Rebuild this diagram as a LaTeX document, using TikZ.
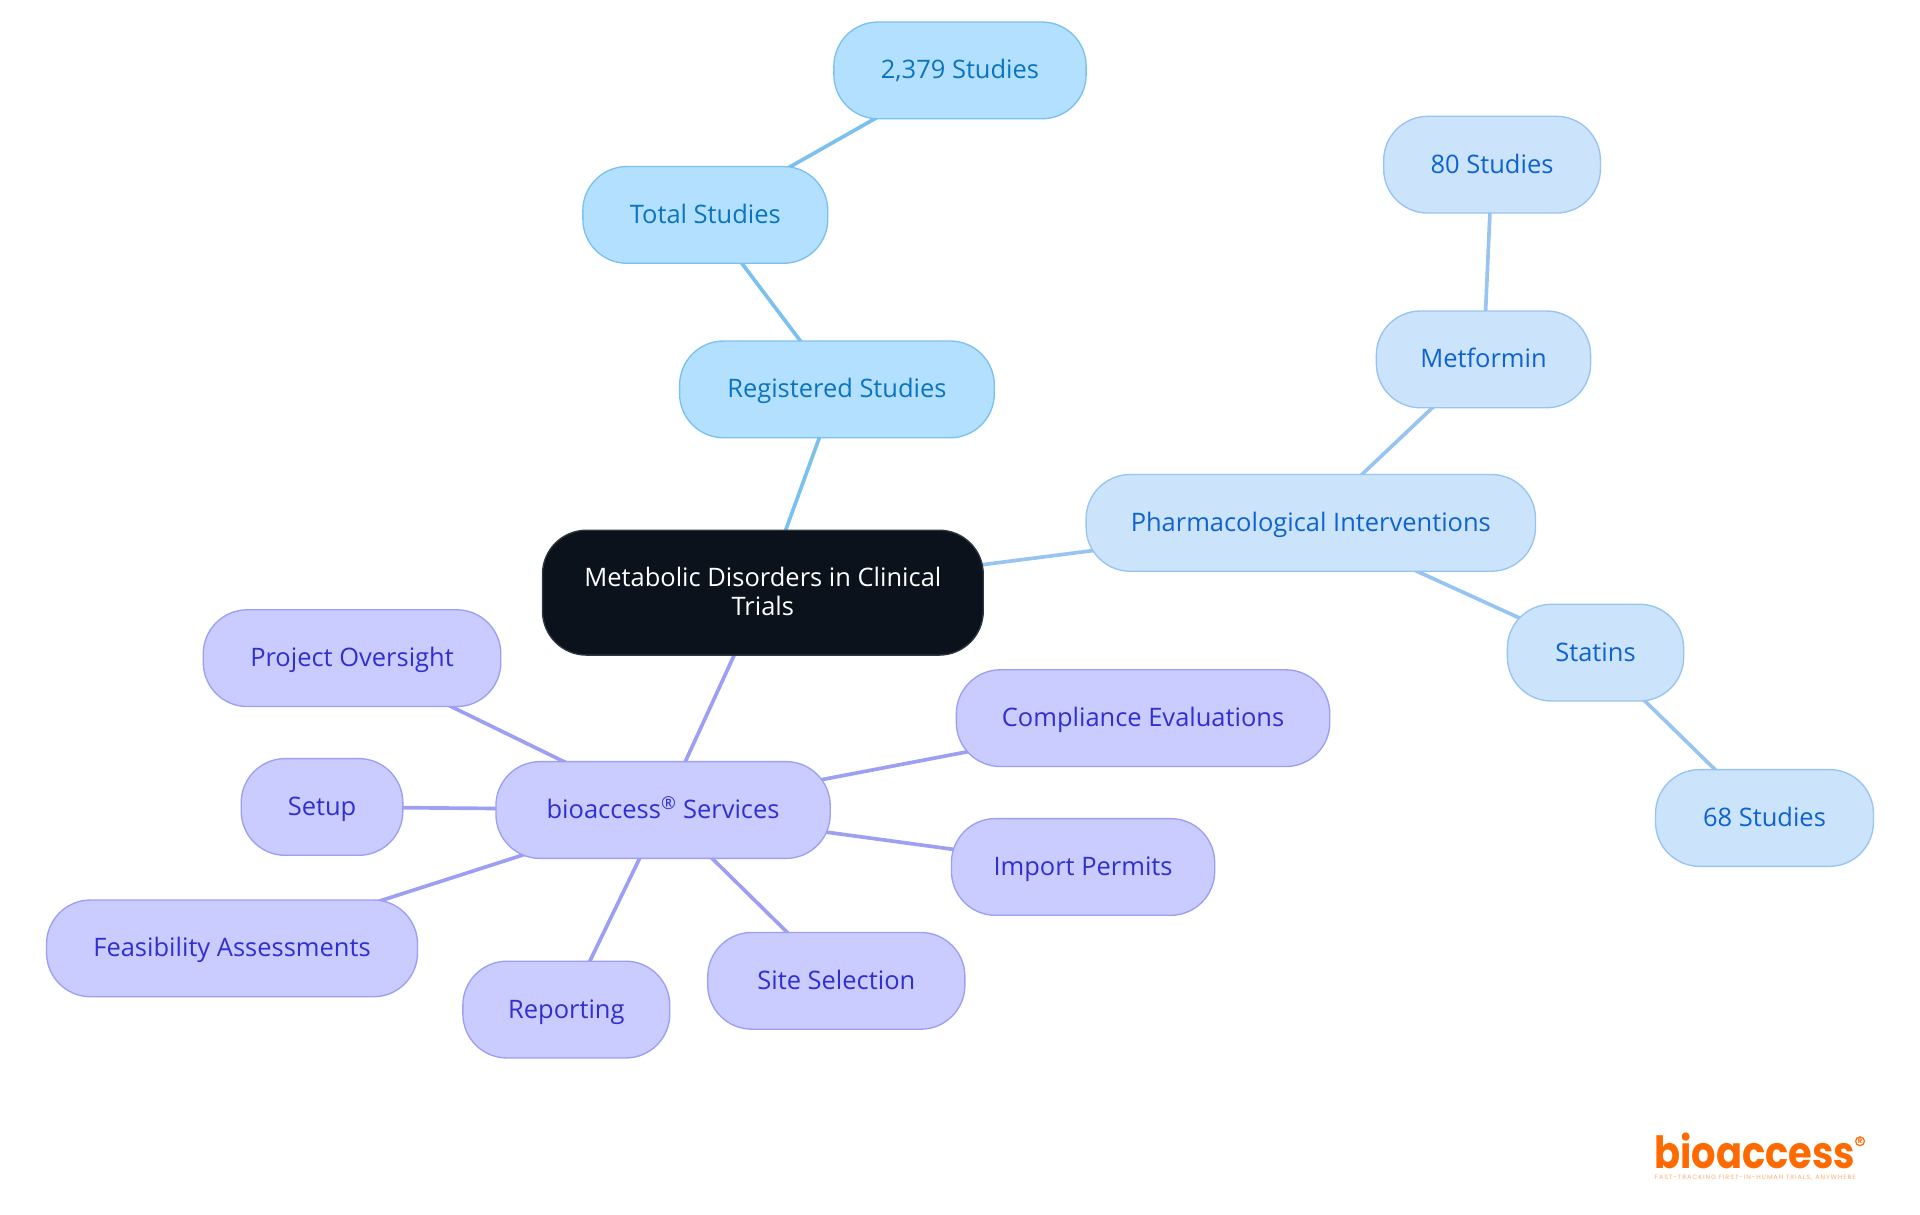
\documentclass[tikz,border=0pt]{standalone}
\usepackage{fontspec}
\setmainfont{Open Sans}
\newfontfamily\logofont{Poppins}
\newfontfamily\tagfont[LetterSpace=14]{Poppins}
\usetikzlibrary{backgrounds}
\definecolor{bfill}{HTML}{B3E0FF}\definecolor{bline}{HTML}{7BC1F0}\definecolor{btext}{HTML}{0A74C0}
\definecolor{mfill}{HTML}{CCE3FC}\definecolor{mline}{HTML}{98C4F1}\definecolor{mtext}{HTML}{0D63D0}
\definecolor{pfill}{HTML}{CACBFF}\definecolor{pline}{HTML}{9D9FF3}\definecolor{ptext}{HTML}{3030CF}
\definecolor{rootfill}{HTML}{0B121B}\definecolor{logoorange}{HTML}{FF6A00}
\tikzset{
 box/.style={rounded corners=36pt,minimum height=79pt,inner sep=0pt,line width=1.1pt,font=\fontsize{20.8}{24}\selectfont,align=center},
 leafbox/.style={box,text height=19pt,text depth=5pt},
 bluebox/.style={leafbox,fill=bfill,draw=bline,text=btext},
 midbox/.style={leafbox,fill=mfill,draw=mline,text=mtext},
 purplebox/.style={leafbox,fill=pfill,draw=pline,text=ptext},
 rootbox/.style={box,fill=rootfill,draw=rootfill!85!white,text=white,minimum height=102pt,minimum width=360pt,text depth=2pt},
 blink/.style={line width=3pt,draw=bline},
 mlink/.style={line width=3pt,draw=mline},
 plink/.style={line width=3pt,draw=pline},
}
\begin{document}
\begin{tikzpicture}[x=1pt,y=-1pt]
\useasboundingbox (0,0) rectangle (1568,992.2);
\node[rootbox] (root) at (623,484) {Metabolic Disorders in Clinical\\Trials};
\node[bluebox,minimum width=257pt] (reg) at (683.5,318) {Registered Studies};
\node[bluebox,minimum width=200pt] (total) at (576,175.5) {Total Studies};
\node[bluebox,minimum width=206pt] (n2379) at (784,57.5) {2,379 Studies};
\node[midbox,minimum width=367pt] (pharma) at (1070.5,427) {Pharmacological Interventions};
\node[midbox,minimum width=175pt] (met) at (1211.5,293.5) {Metformin};
\node[midbox,minimum width=177pt] (n80) at (1218.5,134.5) {80 Studies};
\node[midbox,minimum width=144pt] (statins) at (1303,533) {Statins};
\node[midbox,minimum width=178pt] (n68) at (1441,668) {68 Studies};
\node[purplebox,minimum width=273pt] (bio) at (541.5,661.5) {bioaccess\textsuperscript{®} Services};
\node[purplebox,minimum width=243pt] (proj) at (287.5,537.5) {Project Oversight};
\node[purplebox,minimum width=132pt] (setup) at (263,659) {Setup};
\node[purplebox,minimum width=303pt] (feas) at (189.5,774.5) {Feasibility Assessments};
\node[purplebox,minimum width=169pt] (rep) at (462.5,824.5) {Reporting};
\node[purplebox,minimum width=210pt] (site) at (683,801) {Site Selection};
\node[purplebox,minimum width=215pt] (imp) at (884.5,708) {Import Permits};
\node[purplebox,minimum width=305pt] (comp) at (933.5,586.5) {Compliance Evaluations};
\begin{scope}[on background layer]
\draw[blink] (root.center)--(reg.center);
\draw[blink] (reg.center)--(total.center);
\draw[blink] (total.center)--(n2379.center);
\draw[mlink] (root.center)--(pharma.center);
\draw[mlink] (pharma.center)--(met.center);
\draw[mlink] (met.center)--(n80.center);
\draw[mlink] (pharma.center)--(statins.center);
\draw[mlink] (statins.center)--(n68.center);
\draw[plink] (root.center)--(bio.center);
\draw[plink] (bio.center)--(proj.center);
\draw[plink] (bio.center)--(setup.center);
\draw[plink] (bio.center)--(feas.center);
\draw[plink] (bio.center)--(rep.center);
\draw[plink] (bio.center)--(site.center);
\draw[plink] (bio.center)--(imp.center);
\draw[plink] (bio.center)--(comp.center);
\end{scope}
\node[inner sep=0pt,text=logoorange,anchor=center] (logo) at (1433,940) {\resizebox{164pt}{29pt}{\logofont\bfseries bioaccess}};
\draw[logoorange,line width=1pt] (1519,932) circle (3.6pt);
\node[inner sep=0pt,text=logoorange,anchor=center,font=\logofont\bfseries\fontsize{5.5}{6}\selectfont] (logoR) at (1519,932) {R};
\node[inner sep=0pt,text=logoorange!55!white,anchor=center] (tag) at (1433.5,961.5) {\resizebox{164pt}{3.6pt}{\tagfont FAST-TRACKING FIRST-IN-HUMAN TRIALS, ANYWHERE}};
\end{tikzpicture}
\end{document}
